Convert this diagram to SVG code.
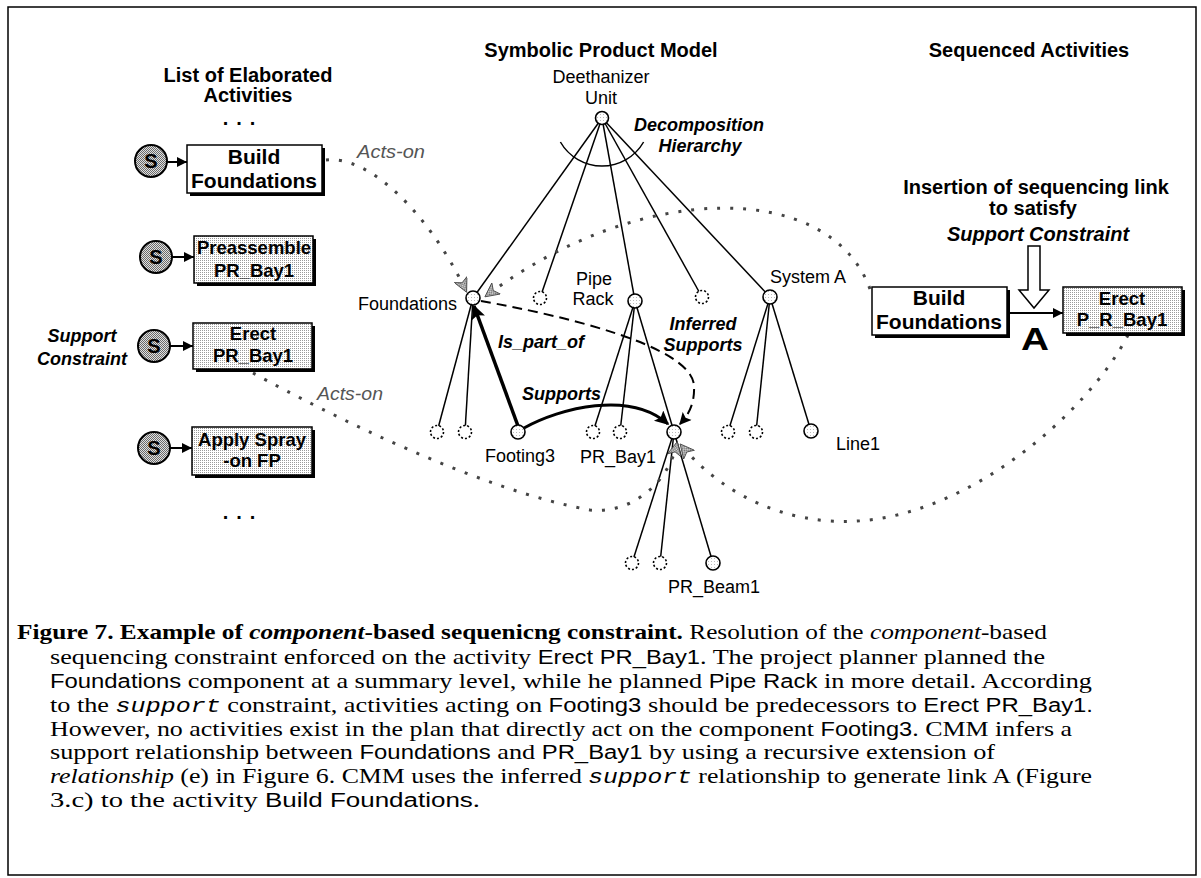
<svg xmlns="http://www.w3.org/2000/svg" width="1201" height="878" viewBox="0 0 1201 878">
  <defs>
    <pattern id="stip" width="2" height="2" patternUnits="userSpaceOnUse">
      <rect width="2" height="2" fill="#fff"/>
      <rect width="1" height="1" fill="#9a9a9a"/>
    </pattern>
    <pattern id="stipDark" width="2" height="2" patternUnits="userSpaceOnUse">
      <rect width="2" height="2" fill="#e0e0e0"/>
      <rect width="1" height="1" fill="#6a6a6a"/>
      <rect x="1" y="1" width="1" height="1" fill="#6a6a6a"/>
    </pattern>
    <pattern id="stipLight" width="3" height="3" patternUnits="userSpaceOnUse">
      <rect width="3" height="3" fill="#fff"/>
      <rect width="1" height="1" fill="#bbb"/>
    </pattern>
    <marker id="ahSmall" viewBox="0 0 10 10" refX="10" refY="5" markerWidth="10" markerHeight="10" markerUnits="userSpaceOnUse" orient="auto">
      <path d="M0,0 L10,5 L0,10 z" fill="#000"/>
    </marker>
    <marker id="ahBig" viewBox="0 0 10 10" refX="9" refY="5" markerWidth="17" markerHeight="14" markerUnits="userSpaceOnUse" orient="auto">
      <path d="M0,0 L10,5 L0,10 L2,5 z" fill="#000"/>
    </marker>
    <marker id="ahMid" viewBox="0 0 10 10" refX="9" refY="5" markerWidth="13" markerHeight="12" markerUnits="userSpaceOnUse" orient="auto">
      <path d="M0,0 L10,5 L0,10 L2,5 z" fill="#000"/>
    </marker>
    <marker id="ahGray" viewBox="0 0 10 10" refX="9" refY="5" markerWidth="15" markerHeight="14" markerUnits="userSpaceOnUse" orient="auto">
      <path d="M0,0 L10,5 L0,10 L2.5,5 z" fill="url(#stipDark)" stroke="#444" stroke-width="0.6"/>
    </marker>
    <style>
      .hdr { font-family: "Liberation Sans", Arial, sans-serif; font-weight: bold; font-size: 20px; fill: #000; text-anchor: middle; }
      .hdri { font-family: "Liberation Sans", Arial, sans-serif; font-weight: bold; font-style: italic; font-size: 20px; fill: #000; text-anchor: middle; }
      .lbl { font-family: "Liberation Sans", Arial, sans-serif; font-size: 18px; fill: #000; }
      .rel { font-family: "Liberation Sans", Arial, sans-serif; font-weight: bold; font-style: italic; font-size: 18px; fill: #000; }
      .acts { font-family: "Liberation Sans", Arial, sans-serif; font-style: italic; font-size: 18px; fill: #555; }
      .boxt { font-family: "Liberation Sans", Arial, sans-serif; font-weight: bold; font-size: 18.5px; fill: #000; text-anchor: middle; }
      .boxtw { font-family: "Liberation Sans", Arial, sans-serif; font-weight: bold; font-size: 21px; fill: #000; text-anchor: middle; }
      .stxt { font-family: "Liberation Sans", Arial, sans-serif; font-weight: bold; font-size: 20px; fill: #000; text-anchor: middle; }
      .box { stroke: #000; stroke-width: 1.5; }
      .shadow { fill: #000; }
      .scirc { fill: url(#stipDark); stroke: #000; stroke-width: 2; }
      .tree { stroke: #000; stroke-width: 1.5; fill: none; }
      .node { fill: url(#stipLight); stroke: #000; stroke-width: 1.6; }
      .dnode { fill: #fff; stroke: #000; stroke-width: 1.6; stroke-dasharray: 2 2; }
      .acton { fill: none; stroke: #444; stroke-width: 3; stroke-dasharray: 3 10; }
      .cap { font-family: "Liberation Serif", "Times New Roman", serif; font-size: 22px; fill: #000; }
      .sans { font-family: "Liberation Sans", Arial, sans-serif; font-size: 20px; }
      .mono { font-family: "Liberation Mono", "Courier New", monospace; font-style: italic; font-size: 21px; }
    </style>
  </defs>

  <rect width="1201" height="878" fill="#fff"/>
  <!-- frame -->
  <rect x="8" y="7" width="1188" height="868" fill="none" stroke="#000" stroke-width="1.5"/>

  <!-- column headings -->
  <g id="headings">
    <text class="hdr" x="248" y="82" font-size="18.5">List of Elaborated</text>
    <text class="hdr" x="248" y="102" font-size="18.5">Activities</text>
    <text class="hdr" x="243" y="125" font-size="18" letter-spacing="8">...</text>
    <text class="hdr" x="243" y="519" font-size="18" letter-spacing="8">...</text>
    <text class="hdr" x="601" y="57">Symbolic Product Model</text>
    <text class="hdr" x="1029" y="57" font-size="21">Sequenced Activities</text>
    <text class="hdr" x="1036" y="194">Insertion of sequencing link</text>
    <text class="hdr" x="1033" y="215" font-size="21">to satisfy</text>
    <text class="hdri" x="1038" y="241" font-size="21">Support Constraint</text>
    <text class="rel" x="82" y="342" font-size="21" text-anchor="middle">Support</text>
    <text class="rel" x="82" y="365" font-size="21" text-anchor="middle">Constraint</text>
    <text class="rel" x="699" y="131" text-anchor="middle">Decomposition</text>
    <text class="rel" x="700" y="152" text-anchor="middle">Hierarchy</text>
  </g>

  <!-- connectors -->
  <g id="connectors">
    <!-- decomposition from the root -->
    <line class="tree" x1="602" y1="118" x2="473" y2="298"/>
    <line class="tree" x1="602" y1="118" x2="540" y2="298"/>
    <line class="tree" x1="602" y1="118" x2="635" y2="301"/>
    <line class="tree" x1="602" y1="118" x2="702" y2="297"/>
    <line class="tree" x1="602" y1="118" x2="770" y2="297"/>
    <path class="tree" d="M 560.4 142 A 48 48 0 0 0 643.6 142"/>
    <!-- Foundations children -->
    <line class="tree" x1="473" y1="298" x2="437" y2="432"/>
    <line class="tree" x1="473" y1="298" x2="465" y2="432"/>
    <!-- Pipe Rack children -->
    <line class="tree" x1="635" y1="301" x2="593" y2="432"/>
    <line class="tree" x1="635" y1="301" x2="620" y2="432"/>
    <line class="tree" x1="635" y1="301" x2="674" y2="432"/>
    <!-- PR_Bay1 children -->
    <line class="tree" x1="674" y1="432" x2="632" y2="563"/>
    <line class="tree" x1="674" y1="432" x2="660" y2="563"/>
    <line class="tree" x1="674" y1="432" x2="713" y2="563"/>
    <!-- System A children -->
    <line class="tree" x1="770" y1="297" x2="728" y2="432"/>
    <line class="tree" x1="770" y1="297" x2="756" y2="432"/>
    <line class="tree" x1="770" y1="297" x2="811" y2="431"/>

    <!-- start markers to activities -->
    <line x1="167" y1="162" x2="187" y2="162" stroke="#000" stroke-width="2" marker-end="url(#ahSmall)"/>
    <line x1="171" y1="257" x2="194" y2="257" stroke="#000" stroke-width="2" marker-end="url(#ahSmall)"/>
    <line x1="170" y1="346" x2="193" y2="346" stroke="#000" stroke-width="2" marker-end="url(#ahSmall)"/>
    <line x1="170" y1="448" x2="192" y2="448" stroke="#000" stroke-width="2" marker-end="url(#ahSmall)"/>

    <!-- Is_part_of -->
    <line x1="518" y1="426" x2="474" y2="306" stroke="#000" stroke-width="3.5" marker-end="url(#ahBig)"/>
    <!-- Supports -->
    <path d="M 524 428 C 560 408, 630 390, 668 424" fill="none" stroke="#000" stroke-width="3" marker-end="url(#ahBig)"/>
    <!-- Inferred Supports -->
    <path d="M 481 301 C 560 315, 690 345, 694 385 C 695 405, 688 415, 680 424" fill="none" stroke="#000" stroke-width="2" stroke-dasharray="10 6" marker-end="url(#ahMid)"/>

    <!-- acts-on links -->
    <path class="acton" d="M 326 160 C 370 155, 430 215, 466 291" marker-end="url(#ahGray)"/>
    <path class="acton" d="M 870 289 C 830 180, 640 180, 486 296" marker-end="url(#ahGray)"/>
    <path class="acton" d="M 253 373 C 330 415, 480 490, 590 510 C 630 514, 668 485, 677 443" marker-end="url(#ahGray)"/>
    <path class="acton" d="M 1128 335 C 1090 410, 960 530, 830 521 C 760 516, 710 480, 681 445" marker-end="url(#ahGray)"/>
    <text class="acts" x="357" y="158" textLength="68" lengthAdjust="spacingAndGlyphs">Acts-on</text>
    <text class="acts" x="317" y="400" textLength="66" lengthAdjust="spacingAndGlyphs">Acts-on</text>

    <!-- sequencing link A -->
    <line x1="1010" y1="313" x2="1063" y2="313" stroke="#000" stroke-width="2.2" marker-end="url(#ahSmall)"/>
    <text x="1035" y="350" font-family="Liberation Sans, Arial, sans-serif" font-weight="bold" font-size="32" text-anchor="middle" textLength="28" lengthAdjust="spacingAndGlyphs">A</text>
    <!-- insertion pointer -->
    <path d="M 1028 246 L 1040 246 L 1040 290 L 1049 290 L 1034 308 L 1019 290 L 1028 290 z" fill="#fff" stroke="#000" stroke-width="1.5"/>

    <!-- relationship labels -->
    <text class="rel" x="498" y="348">Is_part_of</text>
    <text class="rel" x="522" y="400">Supports</text>
    <text class="rel" x="703" y="330" text-anchor="middle">Inferred</text>
    <text class="rel" x="703" y="351" text-anchor="middle">Supports</text>
  </g>

  <!-- product model nodes -->
  <g id="root-unit">
    <circle class="node" cx="602" cy="118" r="6.5"/>
    <text class="lbl" x="601" y="83" text-anchor="middle">Deethanizer</text>
    <text class="lbl" x="601" y="104" text-anchor="middle">Unit</text>
  </g>
  <g id="foundations">
    <circle class="node" cx="473" cy="298" r="7"/>
    <text class="lbl" x="457" y="310" text-anchor="end">Foundations</text>
  </g>
  <g id="comp-a"><circle class="dnode" cx="540" cy="298" r="6.5"/></g>
  <g id="pipe-rack">
    <circle class="node" cx="635" cy="301" r="7"/>
    <text class="lbl" x="594" y="285" text-anchor="middle">Pipe</text>
    <text class="lbl" x="593" y="305" text-anchor="middle">Rack</text>
  </g>
  <g id="comp-b"><circle class="dnode" cx="702" cy="297" r="6.5"/></g>
  <g id="system-a">
    <circle class="node" cx="770" cy="297" r="7"/>
    <text class="lbl" x="770" y="283">System A</text>
  </g>
  <g id="found-sub1"><circle class="dnode" cx="437" cy="432" r="6.5"/></g>
  <g id="found-sub2"><circle class="dnode" cx="465" cy="432" r="6.5"/></g>
  <g id="footing3">
    <circle class="node" cx="518" cy="432" r="7"/>
    <text class="lbl" x="485" y="462">Footing3</text>
  </g>
  <g id="rack-sub1"><circle class="dnode" cx="593" cy="432" r="6.5"/></g>
  <g id="rack-sub2"><circle class="dnode" cx="620" cy="432" r="6.5"/></g>
  <g id="pr-bay1">
    <circle class="node" cx="674" cy="432" r="7"/>
    <text class="lbl" x="580" y="463">PR_Bay1</text>
  </g>
  <g id="bay-sub1"><circle class="dnode" cx="632" cy="563" r="6.5"/></g>
  <g id="bay-sub2"><circle class="dnode" cx="660" cy="563" r="6.5"/></g>
  <g id="pr-beam1">
    <circle class="node" cx="713" cy="563" r="7"/>
    <text class="lbl" x="668" y="593">PR_Beam1</text>
  </g>
  <g id="sys-sub1"><circle class="dnode" cx="728" cy="432" r="6.5"/></g>
  <g id="sys-sub2"><circle class="dnode" cx="756" cy="432" r="6.5"/></g>
  <g id="line1">
    <circle class="node" cx="811" cy="431" r="7"/>
    <text class="lbl" x="836" y="450">Line1</text>
  </g>

  <!-- elaborated activities -->
  <g id="act-build-foundations">
    <circle class="scirc" cx="151" cy="161" r="16"/>
    <text class="stxt" x="151" y="168">S</text>
    <rect class="shadow" x="190" y="148" width="135" height="48"/>
    <rect class="box" x="187" y="145" width="135" height="48" fill="#fff"/>
    <text class="boxtw" x="254" y="164">Build</text>
    <text class="boxtw" x="254" y="188">Foundations</text>
  </g>
  <g id="act-preassemble">
    <circle class="scirc" cx="156" cy="257" r="16"/>
    <text class="stxt" x="156" y="264">S</text>
    <rect class="shadow" x="197" y="239" width="119" height="47"/>
    <rect class="box" x="194" y="236" width="119" height="47" fill="url(#stip)"/>
    <text class="boxt" x="254" y="254">Preassemble</text>
    <text class="boxt" x="254" y="277">PR_Bay1</text>
  </g>
  <g id="act-erect">
    <circle class="scirc" cx="154" cy="346" r="16"/>
    <text class="stxt" x="154" y="353">S</text>
    <rect class="shadow" x="196" y="326" width="119" height="46"/>
    <rect class="box" x="193" y="323" width="119" height="46" fill="url(#stip)"/>
    <text class="boxt" x="253" y="340">Erect</text>
    <text class="boxt" x="253" y="362">PR_Bay1</text>
  </g>
  <g id="act-spray">
    <circle class="scirc" cx="154" cy="448" r="16"/>
    <text class="stxt" x="154" y="455">S</text>
    <rect class="shadow" x="195" y="430" width="120" height="48"/>
    <rect class="box" x="192" y="427" width="120" height="48" fill="url(#stip)"/>
    <text class="boxt" x="252" y="446">Apply Spray</text>
    <text class="boxt" x="252" y="467">-on FP</text>
  </g>

  <!-- sequenced activities -->
  <g id="seq-build-foundations">
    <rect class="shadow" x="875" y="290" width="135" height="48"/>
    <rect class="box" x="872" y="287" width="135" height="48" fill="#fff"/>
    <text class="boxtw" x="939" y="305">Build</text>
    <text class="boxtw" x="939" y="329">Foundations</text>
  </g>
  <g id="seq-erect">
    <rect class="shadow" x="1066" y="290" width="119" height="46"/>
    <rect class="box" x="1063" y="287" width="119" height="46" fill="url(#stip)"/>
    <text class="boxt" x="1122" y="305">Erect</text>
    <text class="boxt" x="1122" y="326">P_R_Bay1</text>
  </g>

  <!-- caption -->
  <g id="caption" class="cap">
    <text x="17" y="639" textLength="1030" lengthAdjust="spacingAndGlyphs"><tspan font-weight="bold">Figure 7. Example of </tspan><tspan font-weight="bold" font-style="italic">component</tspan><tspan font-weight="bold">-based sequenicng constraint.</tspan> Resolution of the <tspan font-style="italic">component</tspan>-based</text>
    <text x="50" y="664" textLength="995" lengthAdjust="spacingAndGlyphs">sequencing constraint enforced on the activity <tspan class="sans">Erect PR_Bay1</tspan>. The project planner planned the</text>
    <text x="50" y="688" textLength="1042" lengthAdjust="spacingAndGlyphs"><tspan class="sans">Foundations</tspan> component at a summary level, while he planned <tspan class="sans">Pipe Rack</tspan> in more detail. According</text>
    <text x="50" y="712" textLength="1043" lengthAdjust="spacingAndGlyphs">to the <tspan class="mono">support</tspan> constraint, activities acting on <tspan class="sans">Footing3</tspan> should be predecessors to <tspan class="sans">Erect PR_Bay1.</tspan></text>
    <text x="50" y="736" textLength="1022" lengthAdjust="spacingAndGlyphs">However, no activities exist in the plan that directly act on the component <tspan class="sans">Footing3</tspan>. CMM infers a</text>
    <text x="50" y="759" textLength="945" lengthAdjust="spacingAndGlyphs">support relationship between <tspan class="sans">Foundations</tspan> and <tspan class="sans">PR_Bay1</tspan> by using a recursive extension of</text>
    <text x="50" y="783" textLength="1042" lengthAdjust="spacingAndGlyphs"><tspan font-style="italic">relationship</tspan> (e) in Figure 6. CMM uses the inferred <tspan class="mono">support</tspan> relationship to generate link A (Figure</text>
    <text x="50" y="807" textLength="430" lengthAdjust="spacingAndGlyphs">3.c) to the activity <tspan class="sans">Build Foundations</tspan>.</text>
  </g>
</svg>
